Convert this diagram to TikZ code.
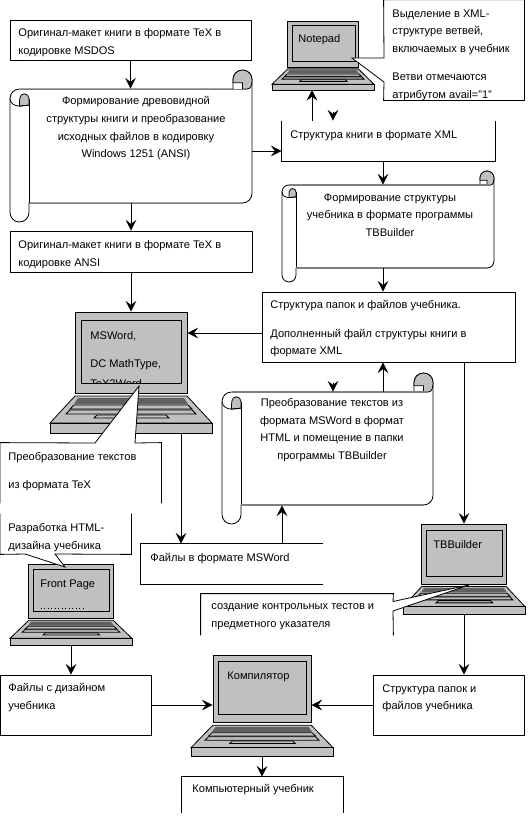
\documentclass[tikz,border=0pt]{standalone}
\usepackage{fontspec}
\setmainfont{Liberation Sans}
\usetikzlibrary{arrows.meta,fit,calc}
\definecolor{lapgray}{HTML}{C0C0C0}
\definecolor{lapdark}{HTML}{606060}
\definecolor{rollgray}{HTML}{808080}
\tikzset{
  boxed/.style={draw,fill=white,inner sep=0pt},
  nobox/.style={fill=white,inner sep=0pt},
  txt/.style={font=\fontsize{8.3}{13.3}\selectfont,align=left,inner sep=0pt,anchor=north west,yshift=-1.5pt},
  ctxt/.style={txt,align=center,anchor=north},
  arr/.style={-{Stealth[length=8pt,width=8pt,inset=3pt]}},
  lapscreen/.style={draw,fill=lapgray,inner sep=0pt,transform shape,minimum width=84pt,minimum height=60.75pt},
  thickedge/.style={rollgray,line width=1.2pt},
  thinedge/.style={rollgray,line width=0.6pt}
}
% laptop: name, left, top, xscale, yscale
\newcommand{\laptop}[5]{
\begin{scope}[shift={(#2,#3)},xscale=#4,yscale=#5]
\draw[fill=lapgray] (25,84) -- (137,84) -- (162,111) -- (0,111) -- cycle;
\draw[fill=lapgray] (0,111) rectangle (162,121);
\fill[lapdark] (28,86) -- (134,86) -- (138,92) -- (24,92) -- cycle;
\draw[fill=lapgray] (24,93) -- (138,93) -- (142,97) -- (20,97) -- cycle;
\draw[fill=lapgray] (20,98) -- (142,98) -- (146,102) -- (16,102) -- cycle;
\draw[fill=lapgray] (47,103) -- (116,103) -- (119,106) -- (44,106) -- cycle;
\node[lapscreen] (#1) at (81,40.5) {};
\draw (31.7,8) rectangle (131.7,71);
\coordinate (#1base) at (81,121);
\end{scope}}
% scroll: edge style, name, left, body top, right, body bottom, curl size
\newcommand{\rollbox}[7]{
\node[nobox,fit={(#3,#4)(#5,#6)}] (#2) {};
\draw[fill=white] (#3,#4+#7/2) to[out=90,in=180] (#3+#7/2,#4) -- (#5-#7,#4) -- (#5-#7,#4-#7/2)
  to[out=90,in=180] (#5-#7/2,#4-#7) to[out=0,in=90] (#5,#4-#7/2) -- (#5,#6-#7/2)
  to[out=-90,in=0] (#5-#7/2,#6) -- (#3+#7,#6) -- (#3+#7,#6+#7/2)
  to[out=-90,in=0] (#3+#7/2,#6+#7) to[out=180,in=-90] (#3,#6+#7/2) -- cycle;
\draw[fill=lapgray] (#5-#7,#4-#7/2) to[out=90,in=180] (#5-#7/2,#4-#7) to[out=0,in=90] (#5,#4-#7/2)
  to[out=-90,in=0] (#5-#7/4,#4) -- (#5-#7/2,#4) -- (#5-#7/2,#4-#7/3) -- (#5-#7,#4-#7/3) -- cycle;
\draw[#1] (#5-#7,#4) -- (#5-#7/4,#4);
\draw[fill=lapgray] (#3+#7/2,#4+#7*0.9) to[out=90,in=180] (#3+#7*0.75,#4+#7/4)
  to[out=0,in=90] (#3+#7,#4+#7/2) -- (#3+#7,#4+#7*0.85) -- cycle;
\draw (#3,#4+#7/2) to[out=-90,in=180] (#3+#7/2,#4+#7*0.9) -- (#3+#7,#4+#7*0.85);
\draw (#3+#7,#4+#7/2) -- (#3+#7,#6);
\draw[#1] (#3+#7/2,#4) -- (#5-#7,#4);
\draw[#1] (#3+#7,#6) -- (#5-#7/2,#6);
}
\begin{document}
\begin{tikzpicture}[x=0.75pt,y=-0.75pt,semithick]
\useasboundingbox (0,0) rectangle (529,819);
%----- left column -----
\node[boxed,fit={(10,20)(251,60)}] (origdos) {};
\node[txt] (origdostxt) at (18,26) {Оригинал-макет книги в формате TeX в\\кодировке MSDOS};
\rollbox{thinedge}{rolla}{10}{89}{252}{203}{19}
\node[ctxt] (rollatxt) at (136,94) {Формирование древовидной\\структуры книги и преобразование\\исходных файлов в кодировку\\Windows 1251 (ANSI)};
\node[boxed,fit={(10,231)(252,272)}] (origansi) {};
\node[txt] (origansitxt) at (18,238) {Оригинал-макет книги в формате TeX в\\кодировке ANSI};

%----- laptops -----
\laptop{note}{272}{21}{0.63}{0.57}
\laptop{word}{50}{312}{1}{1}
\laptop{front}{10}{564}{0.753}{0.67}
\laptop{tbb}{403}{524}{0.753}{0.744}
\laptop{comp}{191}{655}{0.877}{0.835}
\node[txt] (notetxt) at (298,32) {Notepad};
\begin{scope}
\clip (82,321) rectangle (181,383);
\node[txt] (wordtxt) at (90,329) {MSWord,\\[8pt]DC MathType,\\[1.5pt]TeX2Word};
\end{scope}
\node[txt] (fronttxt) at (40,577) {Front Page};
\draw[dotted] (41,608) -- (84,608);
\node[txt] (tbbtxt) at (433,538) {TBBuilder};
\node[txt] (comptxt) at (227,669) {Компилятор};

%----- callouts -----
\node[fit={(384,0)(524,100)},inner sep=0pt] (notecall) {};
\draw[fill=white] (notecall.north west) -- (notecall.north east) -- (notecall.south east) -- (notecall.south west)
  -- (384,82) -- (352,58) -- (384,58) -- cycle;
\node[txt] (notecalltxt) at (392,7) {Выделение в XML-\\структуре ветвей,\\включаемых в учебник\\[8pt]Ветви отмечаются\\атрибутом avail="1"};

\node[fit={(0.5,443)(161,503)},inner sep=0pt] (wordcall) {};
\fill[white] (wordcall.north west) -- (95,443) -- (139,386) -- (135,443) -- (wordcall.north east) -- (wordcall.south east) -- (wordcall.south west) -- cycle;
\draw (wordcall.south west) -- (wordcall.north west) -- (95,443) -- (139,386) -- (135,443) -- (wordcall.north east) -- (wordcall.south east);
\node[txt] (wordcalltxt) at (8,450) {Преобразование текстов\\[8pt]из формата TeX};

\node[fit={(0.5,514)(131,554)},inner sep=0pt] (frontcall) {};
\fill[white] (frontcall.north west) -- (frontcall.south west) -- (25,554) -- (65,567) -- (55,554) -- (frontcall.south east) -- (frontcall.north east) -- cycle;
\draw (frontcall.north west) -- (frontcall.south west) -- (25,554) -- (65,567) -- (55,554) -- (frontcall.south east) -- (frontcall.north east);
\node[txt] (frontcalltxt) at (8,521) {Разработка HTML-\\дизайна учебника};

\node[fit={(201,594)(393,635)},inner sep=0pt] (tbbcall) {};
\fill[white] (tbbcall.south west) -- (tbbcall.north west) -- (tbbcall.north east) -- (393,601.5) -- (469,585) -- (393,611) -- (tbbcall.south east) -- cycle;
\draw (tbbcall.south west) -- (tbbcall.north west) -- (tbbcall.north east) -- (393,601.5) -- (469,585) -- (393,611) -- (tbbcall.south east);
\node[txt] (tbbcalltxt) at (211,601) {создание контрольных тестов и\\предметного указателя};

%----- right column -----
\node[nobox,fit={(282,121)(495,161)}] (xml) {};
\draw (xml.north west) -- (xml.south west) -- (xml.south east) -- (xml.north east);
\node[txt] (xmltxt) at (290,128) {Структура книги в формате XML};
\rollbox{thickedge}{rollb}{282}{185}{494}{268}{14}
\node[ctxt] (rollbtxt) at (390,191) {Формирование структуры\\учебника в формате программы\\TBBuilder};
\node[boxed,fit={(262,292)(515,362)}] (folders) {};
\node[txt] (folderstxt) at (270,298) {Структура папок и файлов учебника.\\[8pt]Дополненный файл структуры книги в\\формате XML};
\rollbox{thickedge}{rollc}{222}{392}{433}{505}{19}
\node[ctxt] (rollctxt) at (332,396) {Преобразование текстов из\\формата MSWord в формат\\HTML и помещение в папки\\программы TBBuilder};
\node[nobox,fit={(141,544)(323,584)}] (mswfile) {};
\draw (mswfile.north east) -- (mswfile.north west) -- (mswfile.south west) -- (mswfile.south east);
\node[txt] (mswfiletxt) at (150,551) {Файлы в формате MSWord};

%----- bottom row -----
\node[boxed,fit={(0.5,675)(151,735)}] (design) {};
\node[txt] (designtxt) at (8,681) {Файлы с дизайном\\учебника};
\node[boxed,fit={(373,675)(524,735)}] (struct) {};
\node[txt] (structtxt) at (382,682) {Структура папок и\\файлов учебника};
\node[nobox,fit={(182,777)(343,813)}] (final) {};
\draw (final.south west) -- (final.north west) -- (final.north east) -- (final.south east);
\node[txt] (finaltxt) at (192,782) {Компьютерный учебник};

%----- guides for the connectors -----
\coordinate (rowa) at (0,151);
\coordinate (rowc) at (0,333);
\coordinate (colb) at (383,0);
\coordinate (colup) at (312,0);
\coordinate (coldown) at (333,0);
\coordinate (colword) at (181,0);
\coordinate (colfile) at (282,0);

\draw[arr] (origdos.south) -- (origdos.south |- rolla.north);
\draw[arr] (rolla.south) -- (rolla.south |- origansi.north);
\draw[arr] (origansi.south) -- (origansi.south |- word.north);
\draw[arr] (rolla.east |- rowa) -- (xml.west |- rowa);
\draw[arr] (xml.north -| colup) -- (colup |- notebase);
\draw[arr] ($(xml.north -| coldown)+(0,-9)$) -- (xml.north -| coldown);
\draw[arr] (xml.south -| colb) -- (rollb.north -| colb);
\draw[arr] (rollb.south -| colb) -- (folders.north -| colb);
\draw[arr] (rollc.north -| colb) -- (folders.south -| colb);
\draw[arr] ($(rollc.north -| coldown)+(0,-9)$) -- (rollc.north -| coldown);
\draw[arr] (folders.west |- rowc) -- (word.east |- rowc);
\draw[arr] (folders.south -| tbb.north) -- (tbb.north);
\draw[arr] (wordbase -| colword) -- (mswfile.north -| colword);
\draw[arr] (mswfile.north -| colfile) -- (rollc.south -| colfile);
\draw[arr] (frontbase) -- (frontbase |- design.north);
\draw[arr] (tbbbase) -- (tbbbase |- struct.north);
\draw[arr] (design.east) -- (comp.west |- design.east);
\draw[arr] (struct.west) -- (comp.east |- struct.west);
\draw[arr] (compbase) -- (compbase |- final.north);
\end{tikzpicture}
\end{document}
